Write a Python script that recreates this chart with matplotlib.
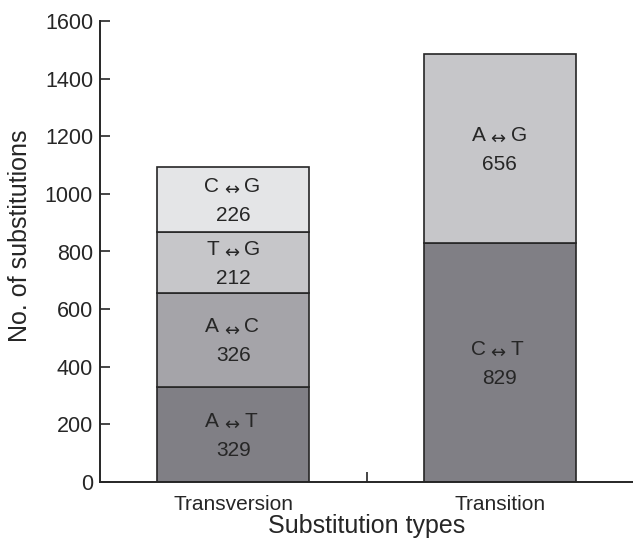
import matplotlib
matplotlib.use('Agg')
import matplotlib.pyplot as plt
import numpy as np

# data
categories = ['Transversion', 'Transition']
seg_pairs = [
    [('A', 'T'), ('A', 'C'), ('T', 'G'), ('C', 'G')],
    [('C', 'T'), ('A', 'G')],
]
seg_values = [
    [329, 326, 212, 226],
    [829, 656],
]
seg_colors = [
    ['#807f85', '#a5a4a9', '#c6c6c9', '#e4e5e7'],
    ['#807f85', '#c6c6c9'],
]
y_ticks = [0, 200, 400, 600, 800, 1000, 1200, 1400, 1600]

plt.rcParams['font.family'] = ['Liberation Sans', 'DejaVu Sans']

ink = '#262626'
PX = 0.72  # points per pixel at dpi 100

fig = plt.figure(figsize=(6.33, 5.41), dpi=100)
ax = fig.add_axes([100 / 633, 59 / 541, 1 - 100 / 633, 461 / 541])

bar_w = 0.57
for i, (pairs, vals, cols) in enumerate(zip(seg_pairs, seg_values, seg_colors)):
    bottom = 0
    for (b1, b2), v, c in zip(pairs, vals, cols):
        ax.bar(i, v, width=bar_w, bottom=bottom, color=c,
               edgecolor=ink, linewidth=1.2, zorder=2)
        mid = bottom + v / 2
        # "X <-> Y" with a small lowered arrow
        kw = dict(xy=(i, mid), textcoords='offset points', va='baseline',
                  color=ink, zorder=3)
        ax.annotate(b1, xytext=(-14 * PX, 8 * PX), ha='right', fontsize=15, **kw)
        ax.annotate('\u2194', xytext=(-2 * PX, 4.5 * PX), ha='center',
                    fontsize=13, family='DejaVu Sans', **kw)
        ax.annotate(b2, xytext=(11 * PX, 8 * PX), ha='left', fontsize=15, **kw)
        ax.annotate(str(v), xytext=(0, -21 * PX), ha='center', fontsize=15, **kw)
        bottom += v

ax.set_xlim(-0.5, 1.5)
ax.set_ylim(0, 1600)

ax.spines['top'].set_visible(False)
ax.spines['right'].set_visible(False)
for s in ['left', 'bottom']:
    ax.spines[s].set_color(ink)
    ax.spines[s].set_linewidth(1.4)

ax.set_yticks(y_ticks)
ax.tick_params(axis='y', direction='in', length=7.5, width=1.2,
               color=ink, labelsize=15.5, labelcolor=ink, pad=5)

ax.set_xticks([0, 1])
ax.set_xticklabels(categories)
ax.tick_params(axis='x', which='major', length=0, labelsize=15,
               labelcolor=ink, pad=9)
ax.set_xticks([0.5], minor=True)
ax.tick_params(axis='x', which='minor', direction='in', length=7.5,
               width=1.2, color=ink)

ax.set_ylabel('No. of substitutions', fontsize=18, color=ink)
ax.yaxis.set_label_coords(-0.128, 0.534)
ax.set_xlabel('Substitution types', fontsize=18, color=ink, labelpad=0)

fig.savefig('out.png', dpi=100)
